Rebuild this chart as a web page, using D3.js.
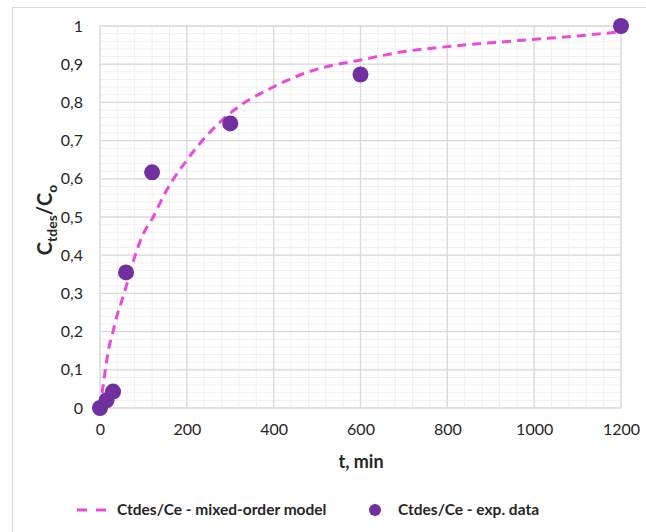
<!DOCTYPE html>
<html>
<head>
<meta charset="utf-8">
<script src="https://cdn.jsdelivr.net/npm/d3@7"></script>
<style>
  body { margin: 0; background: #fff; }
  text { font-family: Lato, "Open Sans", sans-serif; fill: #262626; }
</style>
</head>
<body>
<div class="chart"></div>
<script>
var svgWidth = 646;
var svgHeight = 532;

// experimental points
var expTime = [0, 15, 30, 60, 120, 300, 600, 1200];
var expValue = [0, 0.02, 0.043, 0.355, 0.617, 0.745, 0.873, 1.0];

// mixed-order model curve
var modelTime = [0, 8, 20, 30, 40, 50, 60, 80, 100, 120, 150, 200, 250, 300, 400, 500, 600, 700, 800, 900, 1000, 1100, 1200];
var modelValue = [0, 0.065, 0.155, 0.2, 0.245, 0.28, 0.317, 0.396, 0.457, 0.495, 0.563, 0.649, 0.718, 0.772, 0.841, 0.887, 0.911, 0.933, 0.946, 0.956, 0.965, 0.974, 0.985];

var xTicks = [0, 200, 400, 600, 800, 1000, 1200];
var yTicks = [0, 0.1, 0.2, 0.3, 0.4, 0.5, 0.6, 0.7, 0.8, 0.9, 1];

var legendLabels = ["Ctdes/Ce - mixed-order model", "Ctdes/Ce - exp. data"];

var margin = { top: 26, right: 25, bottom: 124, left: 100 };
var width = 621 - margin.left;
var height = 408 - margin.top;

var svg = d3.select(".chart")
  .append("svg")
  .attr("width", svgWidth)
  .attr("height", svgHeight);

// outer chart border
svg.append("rect")
  .attr("x", 12.5)
  .attr("y", 7.5)
  .attr("width", 650)
  .attr("height", 540)
  .attr("fill", "none")
  .attr("stroke", "#d9d9d9");

var chartGroup = svg.append("g")
  .attr("transform", `translate(${margin.left}, ${margin.top})`);

var xScale = d3.scaleLinear().domain([0, 1200]).range([0, width]);
var yScale = d3.scaleLinear().domain([0, 1]).range([height, 0]);

// minor grid
chartGroup.append("g")
  .selectAll("line")
  .data(d3.range(0, 1201, 40))
  .enter()
  .append("line")
  .attr("x1", d => xScale(d)).attr("x2", d => xScale(d))
  .attr("y1", 0).attr("y2", height)
  .attr("stroke", "#efefef")
  .attr("stroke-width", 1);

chartGroup.append("g")
  .selectAll("line")
  .data(d3.range(0, 51).map(i => i * 0.02))
  .enter()
  .append("line")
  .attr("y1", d => yScale(d)).attr("y2", d => yScale(d))
  .attr("x1", 0).attr("x2", width)
  .attr("stroke", "#efefef")
  .attr("stroke-width", 1);

// major grid
chartGroup.append("g")
  .selectAll("line")
  .data(xTicks)
  .enter()
  .append("line")
  .attr("x1", d => xScale(d)).attr("x2", d => xScale(d))
  .attr("y1", 0).attr("y2", height)
  .attr("stroke", "#d9d9d9")
  .attr("stroke-width", 1.3);

chartGroup.append("g")
  .selectAll("line")
  .data(yTicks)
  .enter()
  .append("line")
  .attr("y1", d => yScale(d)).attr("y2", d => yScale(d))
  .attr("x1", 0).attr("x2", width)
  .attr("stroke", "#d9d9d9")
  .attr("stroke-width", 1.3);

// axes (labels only)
var fmt = d => String(+d.toFixed(1)).replace(".", ",");

var bottomAxis = d3.axisBottom(xScale).tickValues(xTicks).tickSize(0).tickPadding(16).tickFormat(d => String(d));
var leftAxis = d3.axisLeft(yScale).tickValues(yTicks).tickSize(0).tickPadding(17).tickFormat(fmt);

var xAxis = chartGroup.append("g")
  .attr("transform", `translate(0, ${height})`)
  .call(bottomAxis);
var yAxis = chartGroup.append("g").call(leftAxis);

[xAxis, yAxis].forEach(function(ax) {
  ax.select(".domain").remove();
  ax.selectAll("text")
    .style("font-size", "16px")
    .style("font-family", "Lato, sans-serif")
    .attr("fill", "#262626");
});

// model curve
var line = d3.line()
  .x((d, i) => xScale(modelTime[i]))
  .y(d => yScale(d))
  .curve(d3.curveMonotoneX);

chartGroup.append("path")
  .datum(modelValue)
  .attr("d", line)
  .attr("fill", "none")
  .attr("stroke", "#ea4ad8")
  .attr("stroke-width", 3)
  .attr("stroke-dasharray", "9,6");

// experimental points
chartGroup.selectAll("circle.exp")
  .data(expValue)
  .enter()
  .append("circle")
  .attr("class", "exp")
  .attr("cx", (d, i) => xScale(expTime[i]))
  .attr("cy", d => yScale(d))
  .attr("r", 8)
  .attr("fill", "#7030a0");

// axis titles
svg.append("text")
  .attr("x", 361)
  .attr("y", 468)
  .attr("text-anchor", "middle")
  .style("font-size", "18px")
  .style("font-weight", "bold")
  .text("t, min");

var yTitle = svg.append("text")
  .attr("transform", "translate(52, 220) rotate(-90)")
  .attr("text-anchor", "middle")
  .style("font-size", "20px")
  .style("font-weight", "bold");
yTitle.append("tspan").text("C");
yTitle.append("tspan").attr("dy", 5).style("font-size", "14px").text("tdes");
yTitle.append("tspan").attr("dy", -5).text("/C");
yTitle.append("tspan").attr("dy", 5).style("font-size", "14px").text("o");

// legend
var legend = svg.append("g").attr("transform", "translate(0, 510)");

legend.append("line")
  .attr("x1", 77).attr("x2", 106)
  .attr("y1", 0).attr("y2", 0)
  .attr("stroke", "#ea4ad8")
  .attr("stroke-width", 3)
  .attr("stroke-dasharray", "10,9");

legend.append("text")
  .attr("x", 117)
  .attr("y", 5)
  .style("font-size", "15.5px")
  .style("font-weight", "bold")
  .text(legendLabels[0]);

legend.append("circle")
  .attr("cx", 375).attr("cy", 0)
  .attr("r", 6)
  .attr("fill", "#7030a0");

legend.append("text")
  .attr("x", 398)
  .attr("y", 5)
  .style("font-size", "15.5px")
  .style("font-weight", "bold")
  .text(legendLabels[1]);
</script>
</body>
</html>
